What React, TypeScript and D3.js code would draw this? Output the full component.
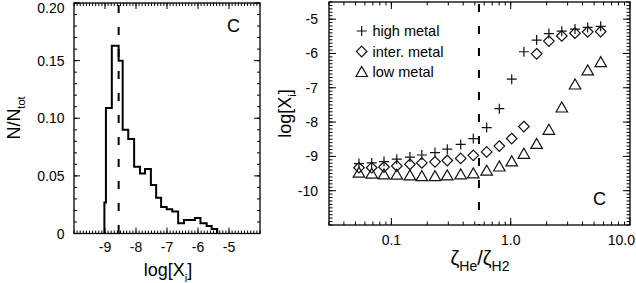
import React from 'react';
import * as d3 from 'd3';

// ---------- Left panel: histogram of log[X_i] ----------
const histEdges = [-9.02, -8.97, -8.78, -8.56, -8.43, -8.25, -8.06, -7.87, -7.71, -7.52, -7.35, -7.19, -7.01, -6.83, -6.64, -6.45, -6.27, -6.1, -5.92, -5.72, -5.56, -5.38];
const histValues = [0.027, 0.109, 0.163, 0.15, 0.09, 0.082, 0.058, 0.052, 0.056, 0.042, 0.031, 0.023, 0.021, 0.019, 0.009, 0.0117, 0.0117, 0.0135, 0.0088, 0.0065, 0.004];
const histMarker = -8.56;
const histXTicks = [-9, -8, -7, -6, -5];
const histYTicks = [0, 0.05, 0.1, 0.15, 0.2];
const histYTickLabels = ['0', '0.05', '0.10', '0.15', '0.20'];

// ---------- Right panel: log[X_i] vs zeta_He / zeta_H2 ----------
const ratioValues = [0.0535, 0.0684, 0.0867, 0.111, 0.143, 0.18, 0.232, 0.294, 0.381, 0.486, 0.629, 0.803, 1.02, 1.29, 1.65, 2.09, 2.68, 3.46, 4.42, 5.68];
const highMetal = [-9.21, -9.19, -9.15, -9.08, -9.02, -8.96, -8.89, -8.79, -8.65, -8.48, -8.16, -7.61, -6.75, -5.95, -5.61, -5.42, -5.35, -5.29, -5.24, -5.21];
const interMetal = [-9.33, -9.33, -9.31, -9.28, -9.23, -9.19, -9.16, -9.12, -9.06, -8.97, -8.87, -8.7, -8.48, -8.13, -6.01, -5.64, -5.49, -5.41, -5.37, -5.36];
const lowMetal = [-9.46, -9.49, -9.51, -9.52, -9.54, -9.56, -9.56, -9.54, -9.51, -9.48, -9.4, -9.28, -9.13, -8.91, -8.62, -8.21, -7.56, -6.89, -6.48, -6.24];
const ratioMarker = 0.542;
const ratioXTicks = [0.1, 1, 10];
const ratioXTickLabels = ['0.1', '1.0', '10.0'];
const ratioYTicks = [-10, -9, -8, -7, -6, -5];
const legendLabels = ['high metal', 'inter. metal', 'low metal'];

const W = 636;
const H = 283;
const FONT = "'Liberation Sans', Arial, Helvetica, sans-serif";

function Plus({ x, y, r }: { x: number; y: number; r: number }) {
  return <path d={`M${x - r},${y}H${x + r}M${x},${y - r}V${y + r}`} stroke="#111" strokeWidth={1.2} fill="none" />;
}
function Diamond({ x, y, r }: { x: number; y: number; r: number }) {
  return <path d={`M${x},${y - r}L${x + r},${y}L${x},${y + r}L${x - r},${y}Z`} stroke="#111" strokeWidth={1.2} fill="none" />;
}
function Tri({ x, y, r }: { x: number; y: number; r: number }) {
  return <path d={`M${x - r * 1.15},${y + r}L${x},${y - r}L${x + r * 1.15},${y + r}Z`} stroke="#111" strokeWidth={1.2} fill="none" />;
}

export default function App() {
  // left scales
  const lx = d3.scaleLinear().domain([-10, -4]).range([74, 260]);
  const ly = d3.scaleLinear().domain([0, 0.2]).range([233.5, 3]);
  // right scales
  const rx = d3.scaleLog().domain([0.03, 10]).range([329, 630]);
  const ry = d3.scaleLinear().domain([-11, -4.5]).range([225, 2]);

  // histogram step path
  const pts: [number, number][] = [[histEdges[0], 0]];
  histValues.forEach((v, i) => {
    pts.push([histEdges[i], v]);
    pts.push([histEdges[i + 1], v]);
  });
  pts.push([histEdges[histEdges.length - 1], 0]);
  const histLine = d3.line<[number, number]>().x((d) => lx(d[0])).y((d) => ly(d[1]));

  const [lx0, lx1] = lx.range();
  const [ly0, ly1] = ly.range();
  const [rx0, rx1] = rx.range();
  const [ry0, ry1] = ry.range();

  const lMinorX = d3.range(-100, -39).map((k) => k / 10);
  const lMinorY = d3.range(0, 21).map((k) => k / 100);
  const rMinorY = d3.range(-110, -44).map((k) => k / 10);
  const rMinorX: number[] = [];
  [0.01, 0.1, 1].forEach((dec) => {
    for (let m = 1; m <= 9; m++) {
      const v = dec * m;
      if (v >= 0.03 && v <= 10) rMinorX.push(v);
    }
  });

  const ticks: JSX.Element[] = [];
  let key = 0;
  // left panel ticks
  lMinorX.forEach((v) => {
    const x = lx(v);
    ticks.push(<line key={key++} x1={x} x2={x} y1={ly0} y2={ly0 - 3} />);
    ticks.push(<line key={key++} x1={x} x2={x} y1={ly1} y2={ly1 + 3} />);
  });
  histXTicks.forEach((v) => {
    const x = lx(v);
    ticks.push(<line key={key++} x1={x} x2={x} y1={ly0} y2={ly0 - 6} />);
    ticks.push(<line key={key++} x1={x} x2={x} y1={ly1} y2={ly1 + 6} />);
  });
  lMinorY.forEach((v) => {
    const y = ly(v);
    ticks.push(<line key={key++} x1={lx0} x2={lx0 + 3} y1={y} y2={y} />);
    ticks.push(<line key={key++} x1={lx1} x2={lx1 - 3} y1={y} y2={y} />);
  });
  histYTicks.forEach((v) => {
    const y = ly(v);
    ticks.push(<line key={key++} x1={lx0} x2={lx0 + 6} y1={y} y2={y} />);
    ticks.push(<line key={key++} x1={lx1} x2={lx1 - 6} y1={y} y2={y} />);
  });
  // right panel ticks
  rMinorX.forEach((v) => {
    const x = rx(v);
    ticks.push(<line key={key++} x1={x} x2={x} y1={ry0} y2={ry0 - 3.5} />);
    ticks.push(<line key={key++} x1={x} x2={x} y1={ry1} y2={ry1 + 3.5} />);
  });
  ratioXTicks.forEach((v) => {
    const x = rx(v);
    ticks.push(<line key={key++} x1={x} x2={x} y1={ry0} y2={ry0 - 7} />);
    ticks.push(<line key={key++} x1={x} x2={x} y1={ry1} y2={ry1 + 7} />);
  });
  rMinorY.forEach((v) => {
    const y = ry(v);
    ticks.push(<line key={key++} x1={rx0} x2={rx0 + 3.5} y1={y} y2={y} />);
    ticks.push(<line key={key++} x1={rx1} x2={rx1 - 3.5} y1={y} y2={y} />);
  });
  ratioYTicks.forEach((v) => {
    const y = ry(v);
    ticks.push(<line key={key++} x1={rx0} x2={rx0 + 7} y1={y} y2={y} />);
    ticks.push(<line key={key++} x1={rx1} x2={rx1 - 7} y1={y} y2={y} />);
  });

  const legendY = [31, 51.5, 71.5];

  return (
    <svg width={W} height={H} viewBox={`0 0 ${W} ${H}`} style={{ position: 'absolute', left: 0, top: 0, background: '#fff' }} fontFamily={FONT}>
      <rect x={0} y={0} width={W} height={H} fill="#fff" />
      {/* ticks */}
      <g stroke="#000" strokeWidth={1}>{ticks}</g>
      {/* frames */}
      <rect x={lx0} y={ly1} width={lx1 - lx0} height={ly0 - ly1} fill="none" stroke="#000" strokeWidth={1.3} />
      <rect x={rx0} y={ry1} width={rx1 - rx0} height={ry0 - ry1} fill="none" stroke="#000" strokeWidth={1.3} />

      {/* histogram */}
      <path d={histLine(pts) || ''} fill="none" stroke="#000" strokeWidth={2} strokeLinejoin="miter" />
      <line x1={lx(histMarker)} x2={lx(histMarker)} y1={ly1 + 2} y2={ly0} stroke="#000" strokeWidth={2} strokeDasharray="8,14" />

      {/* left tick labels */}
      <g fontSize={14} fill="#000">
        {histXTicks.map((v) => (
          <text key={`lx${v}`} x={lx(v)} y={251.5} textAnchor="middle">{String(v).replace('-', '\u2011')}</text>
        ))}
        {histYTicks.map((v, i) => (
          <text key={`ly${v}`} x={64.5} y={Math.max(ly(v), 8.3) + 5} textAnchor="end">{histYTickLabels[i]}</text>
        ))}
      </g>
      {/* left axis titles */}
      <text transform={`translate(20,118) rotate(-90)`} textAnchor="middle" fontSize={18} fill="#000">
        N/N<tspan fontSize={11} dy={5}>tot</tspan>
      </text>
      <text x={168} y={276} textAnchor="middle" fontSize={18} fill="#000">
        log[X<tspan fontSize={11} dy={6}>i</tspan><tspan dy={-6}>]</tspan>
      </text>
      <text x={227} y={32} fontSize={18} fill="#000">C</text>

      {/* right panel dashed marker */}
      <line x1={rx(ratioMarker)} x2={rx(ratioMarker)} y1={ry1 + 2} y2={ry0} stroke="#000" strokeWidth={2} strokeDasharray="8,14" />

      {/* series */}
      {ratioValues.map((v, i) => (
        <Plus key={`h${i}`} x={rx(v)} y={ry(highMetal[i])} r={5} />
      ))}
      {ratioValues.map((v, i) => (
        <Diamond key={`m${i}`} x={rx(v)} y={ry(interMetal[i])} r={5.3} />
      ))}
      {ratioValues.map((v, i) => (
        <Tri key={`l${i}`} x={rx(v)} y={ry(lowMetal[i])} r={5} />
      ))}

      {/* legend */}
      <Plus x={361.7} y={legendY[0]} r={5} />
      <Diamond x={361.7} y={legendY[1]} r={5.3} />
      <Tri x={361.7} y={legendY[2]} r={5} />
      <g fontSize={14.5} fill="#000">
        {legendLabels.map((t, i) => (
          <text key={t} x={372.5} y={legendY[i] + 5}>{t}</text>
        ))}
      </g>

      {/* right tick labels */}
      <g fontSize={14} fill="#000">
        {ratioXTicks.map((v, i) => {
          const x = rx(v);
          const nearEdge = x + 15 > W;
          return (
            <text key={`rx${v}`} x={nearEdge ? W - 1 : x} y={245} textAnchor={nearEdge ? 'end' : 'middle'}>{ratioXTickLabels[i]}</text>
          );
        })}
        {ratioYTicks.map((v) => (
          <text key={`ry${v}`} x={318} y={ry(v) + 5} textAnchor="end">{String(v).replace('-', '\u2011')}</text>
        ))}
      </g>
      {/* right axis titles */}
      <text transform={`translate(291,113.5) rotate(-90)`} textAnchor="middle" fontSize={18} fill="#000">
        log[X<tspan fontSize={11} dy={5}>i</tspan><tspan dy={-5}>]</tspan>
      </text>
      <text x={480} y={265} textAnchor="middle" fontSize={20} fill="#000">
        ζ<tspan fontSize={14} dy={6}>He</tspan><tspan dy={-6}>/ζ</tspan><tspan fontSize={14} dy={6}>H2</tspan>
      </text>
      <text x={593} y={205} fontSize={18} fill="#000">C</text>
    </svg>
  );
}
